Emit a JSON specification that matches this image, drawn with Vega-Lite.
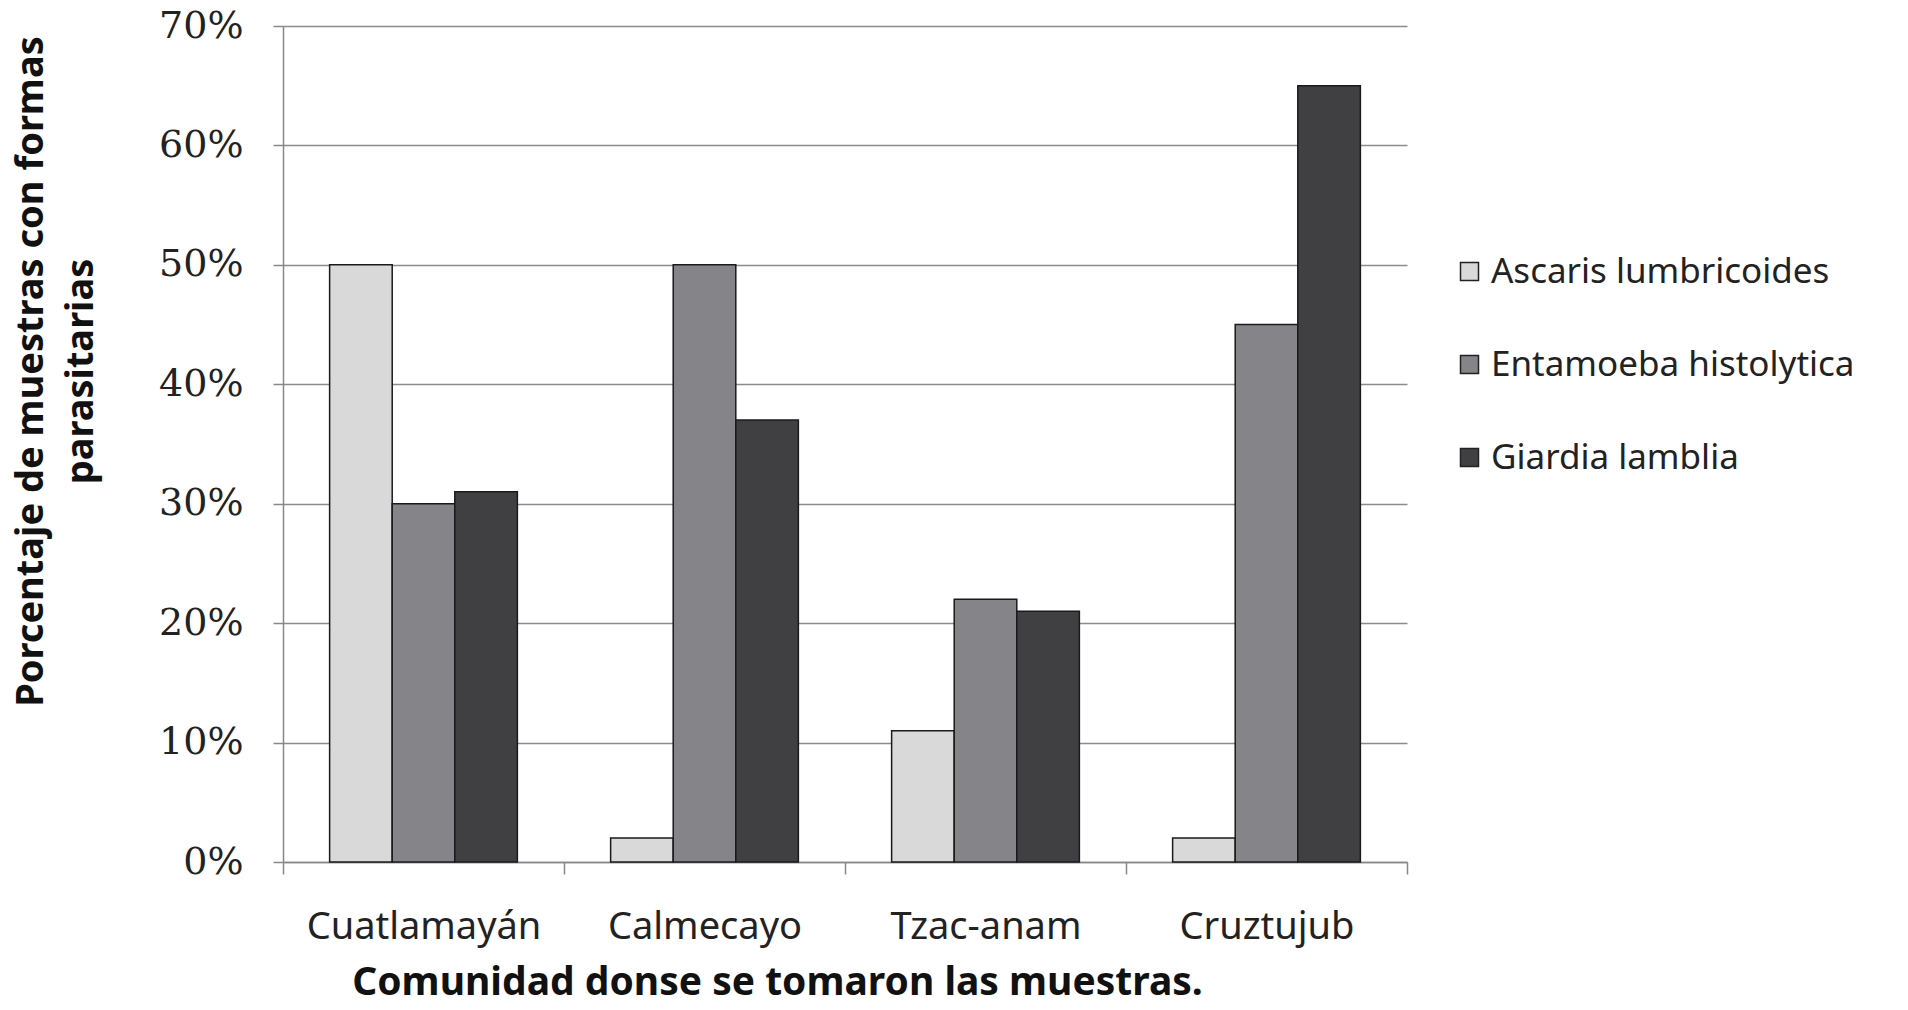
{
  "$schema": "https://vega.github.io/schema/vega-lite/v6.json",
  "width": 1124,
  "height": 836,
  "autosize": "none",
  "padding": {"left": 283, "top": 26, "right": 501, "bottom": 148},
  "background": "white",
  "data": {
    "values": [
      {"comunidad": "Cuatlamayán", "parasito": "Ascaris lumbricoides", "pct": 0.50},
      {"comunidad": "Cuatlamayán", "parasito": "Entamoeba histolytica", "pct": 0.30},
      {"comunidad": "Cuatlamayán", "parasito": "Giardia lamblia", "pct": 0.31},
      {"comunidad": "Calmecayo", "parasito": "Ascaris lumbricoides", "pct": 0.02},
      {"comunidad": "Calmecayo", "parasito": "Entamoeba histolytica", "pct": 0.50},
      {"comunidad": "Calmecayo", "parasito": "Giardia lamblia", "pct": 0.37},
      {"comunidad": "Tzac-anam", "parasito": "Ascaris lumbricoides", "pct": 0.11},
      {"comunidad": "Tzac-anam", "parasito": "Entamoeba histolytica", "pct": 0.22},
      {"comunidad": "Tzac-anam", "parasito": "Giardia lamblia", "pct": 0.21},
      {"comunidad": "Cruztujub", "parasito": "Ascaris lumbricoides", "pct": 0.02},
      {"comunidad": "Cruztujub", "parasito": "Entamoeba histolytica", "pct": 0.45},
      {"comunidad": "Cruztujub", "parasito": "Giardia lamblia", "pct": 0.65}
    ]
  },
  "mark": {"type": "bar", "stroke": "#1a1a1a", "strokeWidth": 1.5},
  "encoding": {
    "x": {
      "field": "comunidad",
      "type": "nominal",
      "sort": ["Cuatlamayán", "Calmecayo", "Tzac-anam", "Cruztujub"],
      "scale": {"paddingInner": 0, "paddingOuter": 0},
      "axis": {
        "title": "Comunidad donse se tomaron las muestras.",
        "titleFont": "Noto Sans",
        "titleFontSize": 39,
        "titleFontWeight": "bold",
        "titleColor": "#111111",
        "titlePadding": 17,
        "titleX": 494,
        "labelFont": "Noto Sans",
        "labelFontSize": 38,
        "labelColor": "#222222",
        "labelAngle": 0,
        "labelPadding": 34,
        "labelLimit": 0,
        "tickBand": "extent",
        "tickSize": 12,
        "tickColor": "#888888",
        "tickWidth": 1.5,
        "domainColor": "#888888",
        "domainWidth": 1.5,
        "grid": false
      }
    },
    "xOffset": {
      "field": "parasito",
      "type": "nominal",
      "scale": {"paddingInner": 0, "paddingOuter": 0.745}
    },
    "y": {
      "field": "pct",
      "type": "quantitative",
      "scale": {"domain": [0, 0.7], "nice": false},
      "axis": {
        "title": ["Porcentaje de muestras con formas", "parasitarias"],
        "titleFont": "Noto Sans",
        "titleFontSize": 38,
        "titleFontWeight": "bold",
        "titleColor": "#111111",
        "titleLineHeight": 50,
        "titlePadding": 58,
        "titleY": 345,
        "values": [0, 0.1, 0.2, 0.3, 0.4, 0.5, 0.6, 0.7],
        "format": ".0%",
        "labelFont": "DejaVu Serif",
        "labelFontSize": 38,
        "labelColor": "#222222",
        "labelPadding": 30,
        "tickSize": 10,
        "tickColor": "#888888",
        "tickWidth": 1.5,
        "domainColor": "#888888",
        "domainWidth": 1.5,
        "grid": true,
        "gridColor": "#8c8c8c",
        "gridWidth": 1.5
      }
    },
    "fill": {
      "field": "parasito",
      "type": "nominal",
      "scale": {
        "domain": ["Ascaris lumbricoides", "Entamoeba histolytica", "Giardia lamblia"],
        "range": ["#d9d9d9", "#858589", "#404042"]
      },
      "legend": {
        "title": null,
        "orient": "none",
        "legendX": 1169,
        "legendY": 228,
        "symbolType": "square",
        "symbolSize": 324,
        "symbolStrokeColor": "#222222",
        "symbolStrokeWidth": 1.5,
        "labelFont": "Noto Sans",
        "labelFontSize": 35,
        "labelColor": "#222222",
        "labelOffset": 4,
        "labelLimit": 0,
        "rowPadding": 57
      }
    }
  },
  "config": {
    "view": {"stroke": null}
  }
}
